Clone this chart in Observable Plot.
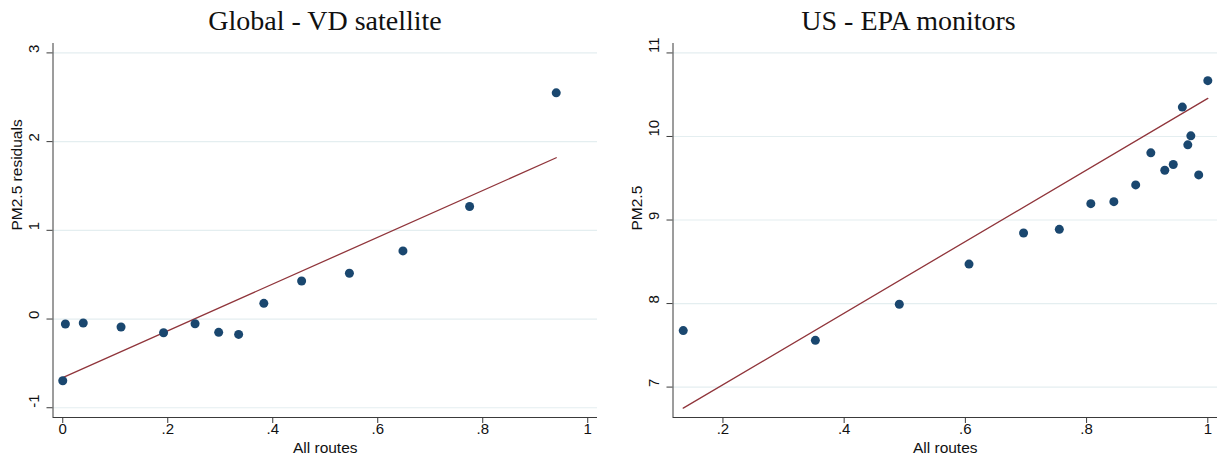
<!DOCTYPE html>
<html>
<head>
<meta charset="utf-8">
<script src="https://cdn.jsdelivr.net/npm/d3@7"></script>
<script src="https://cdn.jsdelivr.net/npm/@observablehq/plot@0.6"></script>
<style>
  html, body { margin: 0; padding: 0; background: #fff; }
  #wrap { position: relative; width: 1225px; height: 464px; overflow: hidden; }
  #titles { position: relative; width: 1225px; height: 40px; }
  .title { position: absolute; top: 7px; font-family: "Liberation Serif", "Times New Roman", serif; font-size: 28px; line-height: 28px; color: #111; white-space: nowrap; transform: translateX(-50%); }
  #row { display: flex; width: 1225px; height: 424px; }
  #row svg { display: block; }
</style>
</head>
<body>
<div id="wrap">
  <div id="titles"></div>
  <div id="row"></div>
</div>
<script>
// ---- Panel titles ----
const titles = ["Global - VD satellite", "US - EPA monitors"];
const xLabel = "All routes";
const yLabels = ["PM2.5 residuals", "PM2.5"];

// ---- Global - VD satellite (binned means) ----
const globalX = [0.000, 0.005, 0.039, 0.111, 0.192, 0.252, 0.297, 0.335, 0.383, 0.455, 0.546, 0.648, 0.775, 0.940];
const globalY = [-0.696, -0.056, -0.045, -0.090, -0.154, -0.053, -0.150, -0.173, 0.177, 0.429, 0.516, 0.768, 1.268, 2.550];
const globalFitX = [0.000, 0.940];
const globalFitY = [-0.660, 1.818];
const globalXTicks = [0, 0.2, 0.4, 0.6, 0.8, 1];
const globalXTickLabels = ["0", ".2", ".4", ".6", ".8", "1"];
const globalYTicks = [-1, 0, 1, 2, 3];
const globalYTickLabels = ["-1", "0", "1", "2", "3"];

// ---- US - EPA monitors (binned means) ----
const usX = [0.1345, 0.3525, 0.491, 0.606, 0.696, 0.755, 0.807, 0.845, 0.881, 0.906, 0.929, 0.943, 0.958, 0.967, 0.972, 0.985, 1.000];
const usY = [7.676, 7.560, 7.992, 8.472, 8.844, 8.888, 9.196, 9.220, 9.420, 9.804, 9.596, 9.664, 10.352, 9.900, 10.008, 9.540, 10.668];
const usFitX = [0.1345, 1.000];
const usFitY = [6.748, 10.456];
const usXTicks = [0.2, 0.4, 0.6, 0.8, 1];
const usXTickLabels = [".2", ".4", ".6", ".8", "1"];
const usYTicks = [7, 8, 9, 10, 11];
const usYTickLabels = ["7", "8", "9", "10", "11"];

const dotColor = "#1a476f";
const fitColor = "#90353b";
const gridColor = "#e4eef0";
const axisColor = "#3a3a3a";
const sans = "'Liberation Sans', Arial, Helvetica, sans-serif";

function panel(cfg) {
  const pts = cfg.x.map((x, i) => ({x, y: cfg.y[i]}));
  const fit = cfg.fitX.map((x, i) => ({x, y: cfg.fitY[i]}));
  const xTickData = cfg.xTicks.map((t, i) => ({t, label: cfg.xTickLabels[i]}));
  const yTickData = cfg.yTicks.map((t, i) => ({t, label: cfg.yTickLabels[i]}));
  return Plot.plot({
    width: cfg.width,
    height: 424,
    marginLeft: cfg.marginLeft,
    marginRight: cfg.marginRight,
    marginTop: 3,
    marginBottom: 47,
    style: {fontFamily: sans, fontSize: "15px", color: "#111", background: "#fff", overflow: "visible"},
    x: {domain: cfg.xDomain, axis: null},
    y: {domain: cfg.yDomain, axis: null},
    marks: [
      Plot.gridY(cfg.yTicks, {stroke: gridColor, strokeOpacity: 1, strokeWidth: 1.2}),
      Plot.axisY({ticks: cfg.yTicks, tickSize: 6, stroke: axisColor, fill: "none", strokeWidth: 1}),
      Plot.axisX({ticks: cfg.xTicks, tickSize: 6, stroke: axisColor, fill: "none", strokeWidth: 1}),
      Plot.text(yTickData, {y: "t", text: "label", frameAnchor: "left", dx: -18.5, rotate: -90, fontSize: 15, fill: "#111"}),
      Plot.text(xTickData, {x: "t", text: "label", frameAnchor: "bottom", dy: 16, fontSize: 15, fill: "#111"}),
      Plot.ruleX([cfg.xDomain[0]], {stroke: axisColor, strokeWidth: 1}),
      Plot.ruleY([cfg.yDomain[0]], {stroke: axisColor, strokeWidth: 1}),
      Plot.line(fit, {x: "x", y: "y", stroke: fitColor, strokeWidth: 1.3}),
      Plot.dot(pts, {x: "x", y: "y", r: 4.5, fill: dotColor, stroke: "none"}),
      Plot.text([cfg.yLabel], {frameAnchor: "left", dx: -35.5, rotate: -90, fontSize: 15.5, fill: "#111"}),
      Plot.text([xLabel], {frameAnchor: "bottom", dy: 35, fontSize: 15.5, fill: "#111"})
    ]
  });
}

const row = document.getElementById("row");
row.append(panel({
  width: 612, marginLeft: 52.5, marginRight: 15,
  xDomain: [-0.0186, 1.0186], yDomain: [-1.11, 3.106],
  x: globalX, y: globalY, fitX: globalFitX, fitY: globalFitY,
  xTicks: globalXTicks, xTickLabels: globalXTickLabels,
  yTicks: globalYTicks, yTickLabels: globalYTickLabels,
  yLabel: yLabels[0]
}));
row.append(panel({
  width: 613, marginLeft: 60.5, marginRight: 8,
  xDomain: [0.1176, 1.016], yDomain: [6.636, 11.113],
  x: usX, y: usY, fitX: usFitX, fitY: usFitY,
  xTicks: usXTicks, xTickLabels: usXTickLabels,
  yTicks: usYTicks, yTickLabels: usYTickLabels,
  yLabel: yLabels[1]
}));

const titleBox = document.getElementById("titles");
const titleCenters = [325, 908.5];
titles.forEach((t, i) => {
  const d = document.createElement("div");
  d.className = "title";
  d.style.left = titleCenters[i] + "px";
  d.textContent = t;
  titleBox.append(d);
});
</script>
</body>
</html>
